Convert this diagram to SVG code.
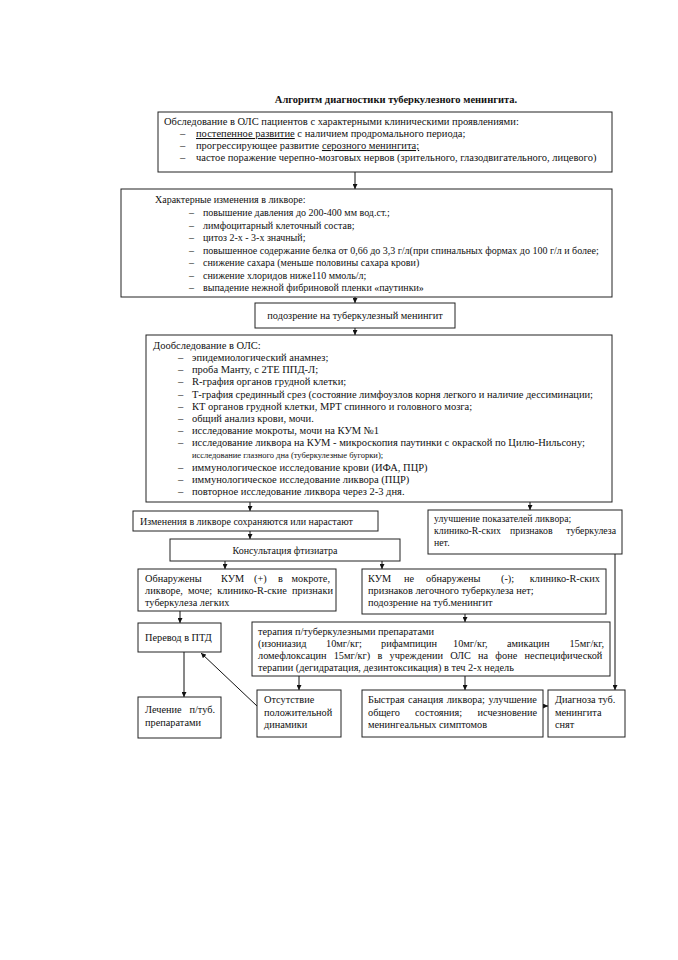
<svg xmlns="http://www.w3.org/2000/svg" width="678" height="960" viewBox="0 0 678 960">
<defs>
<marker id="ah" viewBox="0 0 8 8" refX="8" refY="4" markerWidth="5" markerHeight="5" orient="auto-start-reverse" markerUnits="userSpaceOnUse">
<path d="M0,0 L8,4 L0,8 z" fill="#111"/>
</marker>
<style>
text{font-family:"Liberation Serif","Times New Roman",serif;fill:#111;font-size:10px}
.box{fill:#fff;stroke:#222;stroke-width:1}
.m{font-size:10.5px}
.t{font-size:10.3px}
.k{font-size:10px}
.u{font-size:9.8px}
.s{font-size:8.5px}
.b{font-weight:bold}
.c line{stroke:#111;stroke-width:1;fill:none;marker-end:url(#ah)}
</style>
</defs>
<rect width="678" height="960" fill="#fff"/>
<text class="b m" x="396" y="103" text-anchor="middle">Алгоритм диагностики туберкулезного менингита.</text>

<g class="c" id="connectors">
<line x1="355" y1="172" x2="355" y2="189"/>
<line x1="355" y1="297" x2="355" y2="303"/>
<line x1="355" y1="328" x2="355" y2="335"/>
<line x1="250" y1="502" x2="250" y2="511"/>
<line x1="530" y1="502" x2="530" y2="510"/>
<line x1="250" y1="531" x2="250" y2="539"/>
<line x1="225" y1="561" x2="225" y2="569"/>
<line x1="382" y1="561" x2="382" y2="569"/>
<line x1="180" y1="611" x2="180" y2="623"/>
<line x1="465" y1="614" x2="465" y2="622"/>
<line x1="184" y1="652" x2="184" y2="697"/>
<line x1="257" y1="706" x2="201" y2="653"/>
<line x1="299" y1="676" x2="299" y2="690"/>
<line x1="465" y1="676" x2="465" y2="690"/>
<line x1="543" y1="706" x2="548" y2="706"/>
<line x1="615" y1="554" x2="615" y2="690"/>
</g>

<g id="n1">
<rect class="box" x="158" y="112" width="454" height="60"/>
<text class="m" x="164" y="125">Обследование в ОЛС пациентов с характерными клиническими проявлениями:</text>
<text class="m" x="180" y="137">–</text><text class="m" x="196" y="137"><tspan text-decoration="underline">постепенное развитие</tspan> с наличием продромального периода;</text>
<text class="m" x="180" y="149">–</text><text class="m" x="196" y="149">прогрессирующее развитие <tspan text-decoration="underline">серозного менингита;</tspan></text>
<text class="m" x="180" y="161">–</text><text class="m" x="196" y="161">частое поражение черепно-мозговых нервов (зрительного, глазодвигательного, лицевого)</text>
</g>

<g id="n2">
<rect class="box" x="121" y="189" width="491" height="108"/>
<text x="155" y="203">Характерные изменения в ликворе:</text>
<text x="189" y="216">–</text><text x="203" y="216">повышение давления до 200-400 мм вод.ст.;</text>
<text x="189" y="228.5">–</text><text x="203" y="228.5">лимфоцитарный клеточный состав;</text>
<text x="189" y="241">–</text><text x="203" y="241">цитоз 2-х - 3-х значный;</text>
<text x="189" y="253.5">–</text><text x="203" y="253.5">повышенное содержание белка от 0,66 до 3,3 г/л(при спинальных формах до 100 г/л и более;</text>
<text x="189" y="266">–</text><text x="203" y="266">снижение сахара (меньше половины сахара крови)</text>
<text x="189" y="278.5">–</text><text x="203" y="278.5">снижение хлоридов ниже110 ммоль/л;</text>
<text x="189" y="291">–</text><text x="203" y="291">выпадение нежной фибриновой пленки «паутинки»</text>
</g>

<g id="n3">
<rect class="box" x="255" y="303" width="200" height="25"/>
<text class="t" x="355" y="319" text-anchor="middle">подозрение на туберкулезный менингит</text>
</g>

<g id="n4">
<rect class="box" x="146" y="335" width="466" height="167"/>
<text class="m" x="153" y="349">Дообследование в ОЛС:</text>
<text class="m" x="178" y="361">–</text><text class="m" x="192" y="361">эпидемиологический анамнез;</text>
<text class="m" x="178" y="373">–</text><text class="m" x="192" y="373">проба Манту, с 2ТЕ ППД-Л;</text>
<text class="m" x="178" y="385">–</text><text class="m" x="192" y="385">R-графия органов грудной клетки;</text>
<text class="m" x="178" y="397.5">–</text><text class="m" x="192" y="397.5" textLength="401" lengthAdjust="spacing">Т-графия срединный срез (состояние лимфоузлов корня легкого и наличие дессиминации;</text>
<text class="m" x="178" y="410">–</text><text class="m" x="192" y="410">КТ органов грудной клетки, МРТ спинного и головного мозга;</text>
<text class="m" x="178" y="422">–</text><text class="m" x="192" y="422">общий анализ крови, мочи.</text>
<text class="m" x="178" y="434">–</text><text class="m" x="192" y="434">исследование мокроты,  мочи на КУМ №1</text>
<text class="m" x="178" y="446">–</text><text class="m" x="192" y="446">исследование ликвора на КУМ - микроскопия паутинки с окраской по Цилю-Нильсону;</text>
<text class="s" x="192" y="458">исследование глазного дна (туберкулезные бугорки);</text>
<text class="m" x="178" y="470.5">–</text><text class="m" x="192" y="470.5">иммунологическое исследование крови (ИФА, ПЦР)</text>
<text class="m" x="178" y="483">–</text><text class="m" x="192" y="483">иммунологическое исследование ликвора (ПЦР)</text>
<text class="m" x="178" y="495">–</text><text class="m" x="192" y="495">повторное исследование ликвора через 2-3 дня.</text>
</g>

<g id="n5">
<rect class="box" x="133" y="511" width="245" height="20"/>
<text class="k" x="140" y="525">Изменения в ликворе сохраняются или нарастают</text>
</g>

<g id="n6">
<rect class="box" x="428" y="510" width="194" height="44"/>
<text class="u" x="434" y="522">улучшение показателей ликвора;</text>
<text class="u" y="534"><tspan x="434">клинико-R-ских</tspan><tspan x="510">признаков</tspan><tspan x="616" text-anchor="end">туберкулеза</tspan></text>
<text class="u" x="434" y="546">нет.</text>
</g>

<g id="n7">
<rect class="box" x="170" y="539" width="230" height="22"/>
<text class="k" x="285" y="554" text-anchor="middle">Консультация фтизиатра</text>
</g>

<g id="n8">
<rect class="box" x="138" y="569" width="198" height="42"/>
<text class="t" y="582"><tspan x="145">Обнаружены</tspan><tspan x="221">КУМ</tspan><tspan x="254">(+)</tspan><tspan x="278">в</tspan><tspan x="330" text-anchor="end">мокроте,</tspan></text>
<text class="t" x="145" y="594" word-spacing="2.6">ликворе, моче; клинико-R-ские признаки</text>
<text class="t" x="145" y="606">туберкулеза легких</text>
</g>

<g id="n9">
<rect class="box" x="362" y="569" width="244" height="45"/>
<text class="t" y="582"><tspan x="368">КУМ</tspan><tspan x="404">не</tspan><tspan x="426">обнаружены</tspan><tspan x="501">(-);</tspan><tspan x="600" text-anchor="end">клинико-R-ских</tspan></text>
<text class="t" x="368" y="594">признаков легочного туберкулеза нет;</text>
<text class="t" x="368" y="606">подозрение на туб.менингит</text>
</g>

<g id="n10">
<rect class="box" x="138" y="623" width="83" height="29"/>
<text class="t" x="145" y="641">Перевод в ПТД</text>
</g>

<g id="n11">
<rect class="box" x="252" y="622" width="358" height="54"/>
<text class="t" x="258" y="635">терапия п/туберкулезными препаратами</text>
<text class="t" y="647"><tspan x="258">(изониазид</tspan><tspan x="326">10мг/кг;</tspan><tspan x="381">рифампицин</tspan><tspan x="453">10мг/кг,</tspan><tspan x="507">амикацин</tspan><tspan x="604" text-anchor="end">15мг/кг,</tspan></text>
<text class="t" x="258" y="659" word-spacing="4.6">ломефлоксацин 15мг/кг) в учреждении ОЛС на фоне неспецифической</text>
<text class="t" x="258" y="671">терапии (дегидратация, дезинтоксикация) в теч 2-х недель</text>
</g>

<g id="n12">
<rect class="box" x="138" y="697" width="83" height="41"/>
<text class="t" y="713"><tspan x="145">Лечение</tspan><tspan x="215" text-anchor="end">п/туб.</tspan></text>
<text class="t" x="145" y="726">препаратами</text>
</g>

<g id="n13">
<rect class="box" x="257" y="690" width="84" height="47"/>
<text class="t" x="264" y="703">Отсутствие</text>
<text class="t" x="264" y="715.5">положительной</text>
<text class="t" x="264" y="728">динамики</text>
</g>

<g id="n14">
<rect class="box" x="362" y="690" width="181" height="47"/>
<text class="t" x="368" y="703" word-spacing="1">Быстрая санация ликвора; улучшение</text>
<text class="t" y="715.5"><tspan x="368">общего</tspan><tspan x="415">состояния;</tspan><tspan x="537" text-anchor="end">исчезновение</tspan></text>
<text class="t" x="368" y="728">менингеальных симптомов</text>
</g>

<g id="n15">
<rect class="box" x="548" y="690" width="77" height="47"/>
<text class="t" x="555" y="703">Диагноза туб.</text>
<text class="t" x="555" y="715.5">менингита</text>
<text class="t" x="555" y="728">снят</text>
</g>
</svg>
